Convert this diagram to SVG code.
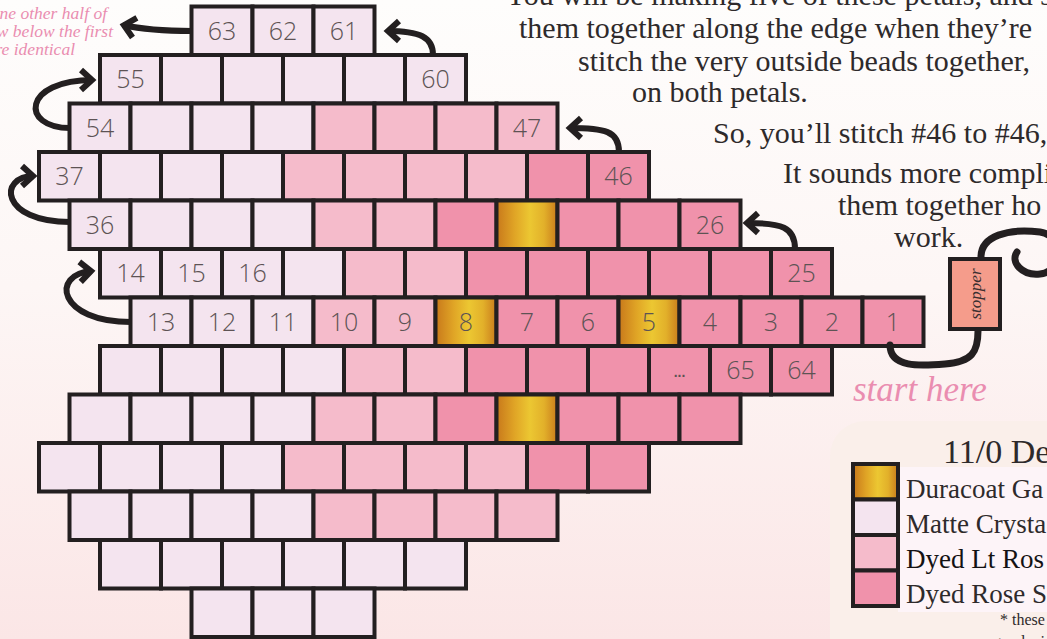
<svg xmlns="http://www.w3.org/2000/svg" width="1047" height="639" viewBox="0 0 1047 639">
<defs>
<linearGradient id="bg" x1="0" y1="0" x2="0" y2="1">
<stop offset="0" stop-color="#fefdfc"/><stop offset="0.45" stop-color="#fdf6f5"/><stop offset="1" stop-color="#fbe6e6"/>
</linearGradient>
<linearGradient id="gold" x1="0" y1="0" x2="1" y2="0">
<stop offset="0" stop-color="#c8781b"/><stop offset="0.3" stop-color="#e0a526"/><stop offset="0.55" stop-color="#ecc732"/><stop offset="0.78" stop-color="#e2b02a"/><stop offset="1" stop-color="#c97b1c"/>
</linearGradient>
<marker id="ah" markerUnits="userSpaceOnUse" viewBox="-20 -15 30 30" markerWidth="30" markerHeight="30" refX="1" refY="0" orient="auto">
<path d="M -11,-10 L 0,0 L -11,10" fill="none" stroke="#231f20" stroke-width="6" stroke-linejoin="miter"/>
</marker>
<style>
.P{fill:#f4e4ef}.L{fill:#f5bbcb}.R{fill:#f092ab}.G{fill:url(#gold)}
.bd rect{stroke:#231f20;stroke-width:4}
.sw{stroke:#231f20;stroke-width:4}
.n{font-family:"Open Sans","Liberation Sans",sans-serif;font-size:25px;font-weight:300;fill:#5d5354;text-anchor:middle}
.dots{font-family:"Liberation Sans",sans-serif;font-size:14px;font-weight:700;fill:#5d5354;text-anchor:middle}
.arrow{fill:none;stroke:#231f20;stroke-width:6;marker-end:url(#ah)}
.thread{fill:none;stroke:#231f20;stroke-width:7;stroke-linecap:round}
.tx{font-family:"Liberation Serif",serif;font-size:30px;fill:#2e2a2b}
.lg{font-family:"Liberation Serif",serif;font-size:27px;fill:#2e2a2b}
.ttl{font-family:"Liberation Serif",serif;font-size:34px;fill:#2e2a2b}
.sm{font-family:"Liberation Serif",serif;font-size:16px;fill:#2e2a2b}
.scr{font-family:"Liberation Serif",serif;font-style:italic;fill:#ea8db0}
.scs{font-size:17.5px}
</style>
</defs>
<rect x="0" y="0" width="1047" height="639" fill="url(#bg)"/>

<g id="notes">
<text class="scr scs" x="107" y="19" text-anchor="end">ne other half of</text>
<text class="scr scs" x="113" y="37" text-anchor="end">w below the first</text>
<text class="scr scs" x="75" y="55" text-anchor="end">re identical</text>
<text class="tx" x="505" y="5">You will be making five of these petals, and s</text>
<text class="tx" x="519" y="38">them together along the edge when they’re</text>
<text class="tx" x="578" y="71">stitch the very outside beads together,</text>
<text class="tx" x="632" y="102">on both petals.</text>
<text class="tx" x="713" y="143">So, you’ll stitch #46 to #46,</text>
<text class="tx" x="783" y="183">It sounds more compli</text>
<text class="tx" x="838" y="215">them together ho</text>
<text class="tx" x="894" y="247">work.</text>
<text class="scr" font-size="35" x="853" y="401">start here</text>
</g>

<g id="beads" class="bd">
<g id="b0_0"><rect class="P" x="191.5" y="6.5" width="61" height="48.5"/><text class="n" x="222" y="39.5">63</text></g>
<g id="b0_1"><rect class="P" x="252.5" y="6.5" width="61" height="48.5"/><text class="n" x="283" y="39.5">62</text></g>
<g id="b0_2"><rect class="P" x="313.5" y="6.5" width="61" height="48.5"/><text class="n" x="344" y="39.5">61</text></g>

<g id="b1_0"><rect class="P" x="100" y="55" width="61" height="48.5"/><text class="n" x="130.5" y="88">55</text></g>
<g id="b1_1"><rect class="P" x="161" y="55" width="61" height="48.5"/></g>
<g id="b1_2"><rect class="P" x="222" y="55" width="61" height="48.5"/></g>
<g id="b1_3"><rect class="P" x="283" y="55" width="61" height="48.5"/></g>
<g id="b1_4"><rect class="P" x="344" y="55" width="61" height="48.5"/></g>
<g id="b1_5"><rect class="P" x="405" y="55" width="61" height="48.5"/><text class="n" x="435.5" y="88">60</text></g>

<g id="b2_0"><rect class="P" x="69.5" y="103.5" width="61" height="48.5"/><text class="n" x="100" y="136.5">54</text></g>
<g id="b2_1"><rect class="P" x="130.5" y="103.5" width="61" height="48.5"/></g>
<g id="b2_2"><rect class="P" x="191.5" y="103.5" width="61" height="48.5"/></g>
<g id="b2_3"><rect class="P" x="252.5" y="103.5" width="61" height="48.5"/></g>
<g id="b2_4"><rect class="L" x="313.5" y="103.5" width="61" height="48.5"/></g>
<g id="b2_5"><rect class="L" x="374.5" y="103.5" width="61" height="48.5"/></g>
<g id="b2_6"><rect class="L" x="435.5" y="103.5" width="61" height="48.5"/></g>
<g id="b2_7"><rect class="L" x="496.5" y="103.5" width="61" height="48.5"/><text class="n" x="527" y="136.5">47</text></g>

<g id="b3_0"><rect class="P" x="39" y="152" width="61" height="48.5"/><text class="n" x="69.5" y="185">37</text></g>
<g id="b3_1"><rect class="P" x="100" y="152" width="61" height="48.5"/></g>
<g id="b3_2"><rect class="P" x="161" y="152" width="61" height="48.5"/></g>
<g id="b3_3"><rect class="P" x="222" y="152" width="61" height="48.5"/></g>
<g id="b3_4"><rect class="L" x="283" y="152" width="61" height="48.5"/></g>
<g id="b3_5"><rect class="L" x="344" y="152" width="61" height="48.5"/></g>
<g id="b3_6"><rect class="L" x="405" y="152" width="61" height="48.5"/></g>
<g id="b3_7"><rect class="L" x="466" y="152" width="61" height="48.5"/></g>
<g id="b3_8"><rect class="R" x="527" y="152" width="61" height="48.5"/></g>
<g id="b3_9"><rect class="R" x="588" y="152" width="61" height="48.5"/><text class="n" x="618.5" y="185">46</text></g>

<g id="b4_0"><rect class="P" x="69.5" y="200.5" width="61" height="48.5"/><text class="n" x="100" y="233.5">36</text></g>
<g id="b4_1"><rect class="P" x="130.5" y="200.5" width="61" height="48.5"/></g>
<g id="b4_2"><rect class="P" x="191.5" y="200.5" width="61" height="48.5"/></g>
<g id="b4_3"><rect class="P" x="252.5" y="200.5" width="61" height="48.5"/></g>
<g id="b4_4"><rect class="L" x="313.5" y="200.5" width="61" height="48.5"/></g>
<g id="b4_5"><rect class="L" x="374.5" y="200.5" width="61" height="48.5"/></g>
<g id="b4_6"><rect class="R" x="435.5" y="200.5" width="61" height="48.5"/></g>
<g id="b4_7"><rect class="G" x="496.5" y="200.5" width="61" height="48.5"/></g>
<g id="b4_8"><rect class="R" x="557.5" y="200.5" width="61" height="48.5"/></g>
<g id="b4_9"><rect class="R" x="618.5" y="200.5" width="61" height="48.5"/></g>
<g id="b4_10"><rect class="R" x="679.5" y="200.5" width="61" height="48.5"/><text class="n" x="710" y="233.5">26</text></g>

<g id="b5_0"><rect class="P" x="100" y="249" width="61" height="48.5"/><text class="n" x="130.5" y="282">14</text></g>
<g id="b5_1"><rect class="P" x="161" y="249" width="61" height="48.5"/><text class="n" x="191.5" y="282">15</text></g>
<g id="b5_2"><rect class="P" x="222" y="249" width="61" height="48.5"/><text class="n" x="252.5" y="282">16</text></g>
<g id="b5_3"><rect class="P" x="283" y="249" width="61" height="48.5"/></g>
<g id="b5_4"><rect class="L" x="344" y="249" width="61" height="48.5"/></g>
<g id="b5_5"><rect class="L" x="405" y="249" width="61" height="48.5"/></g>
<g id="b5_6"><rect class="R" x="466" y="249" width="61" height="48.5"/></g>
<g id="b5_7"><rect class="R" x="527" y="249" width="61" height="48.5"/></g>
<g id="b5_8"><rect class="R" x="588" y="249" width="61" height="48.5"/></g>
<g id="b5_9"><rect class="R" x="649" y="249" width="61" height="48.5"/></g>
<g id="b5_10"><rect class="R" x="710" y="249" width="61" height="48.5"/></g>
<g id="b5_11"><rect class="R" x="771" y="249" width="61" height="48.5"/><text class="n" x="801.5" y="282">25</text></g>

<g id="b6_0"><rect class="P" x="130.5" y="297.5" width="61" height="48.5"/><text class="n" x="161" y="330.5">13</text></g>
<g id="b6_1"><rect class="P" x="191.5" y="297.5" width="61" height="48.5"/><text class="n" x="222" y="330.5">12</text></g>
<g id="b6_2"><rect class="P" x="252.5" y="297.5" width="61" height="48.5"/><text class="n" x="283" y="330.5">11</text></g>
<g id="b6_3"><rect class="L" x="313.5" y="297.5" width="61" height="48.5"/><text class="n" x="344" y="330.5">10</text></g>
<g id="b6_4"><rect class="L" x="374.5" y="297.5" width="61" height="48.5"/><text class="n" x="405" y="330.5">9</text></g>
<g id="b6_5"><rect class="G" x="435.5" y="297.5" width="61" height="48.5"/><text class="n" x="466" y="330.5">8</text></g>
<g id="b6_6"><rect class="R" x="496.5" y="297.5" width="61" height="48.5"/><text class="n" x="527" y="330.5">7</text></g>
<g id="b6_7"><rect class="R" x="557.5" y="297.5" width="61" height="48.5"/><text class="n" x="588" y="330.5">6</text></g>
<g id="b6_8"><rect class="G" x="618.5" y="297.5" width="61" height="48.5"/><text class="n" x="649" y="330.5">5</text></g>
<g id="b6_9"><rect class="R" x="679.5" y="297.5" width="61" height="48.5"/><text class="n" x="710" y="330.5">4</text></g>
<g id="b6_10"><rect class="R" x="740.5" y="297.5" width="61" height="48.5"/><text class="n" x="771" y="330.5">3</text></g>
<g id="b6_11"><rect class="R" x="801.5" y="297.5" width="61" height="48.5"/><text class="n" x="832" y="330.5">2</text></g>
<g id="b6_12"><rect class="R" x="862.5" y="297.5" width="61" height="48.5"/><text class="n" x="893" y="330.5">1</text></g>

<g id="b7_0"><rect class="P" x="100" y="346" width="61" height="48.5"/></g>
<g id="b7_1"><rect class="P" x="161" y="346" width="61" height="48.5"/></g>
<g id="b7_2"><rect class="P" x="222" y="346" width="61" height="48.5"/></g>
<g id="b7_3"><rect class="P" x="283" y="346" width="61" height="48.5"/></g>
<g id="b7_4"><rect class="L" x="344" y="346" width="61" height="48.5"/></g>
<g id="b7_5"><rect class="L" x="405" y="346" width="61" height="48.5"/></g>
<g id="b7_6"><rect class="R" x="466" y="346" width="61" height="48.5"/></g>
<g id="b7_7"><rect class="R" x="527" y="346" width="61" height="48.5"/></g>
<g id="b7_8"><rect class="R" x="588" y="346" width="61" height="48.5"/></g>
<g id="b7_9"><rect class="R" x="649" y="346" width="61" height="48.5"/><text class="dots" x="679.5" y="377">...</text></g>
<g id="b7_10"><rect class="R" x="710" y="346" width="61" height="48.5"/><text class="n" x="740.5" y="379">65</text></g>
<g id="b7_11"><rect class="R" x="771" y="346" width="61" height="48.5"/><text class="n" x="801.5" y="379">64</text></g>

<g id="b8_0"><rect class="P" x="69.5" y="394.5" width="61" height="48.5"/></g>
<g id="b8_1"><rect class="P" x="130.5" y="394.5" width="61" height="48.5"/></g>
<g id="b8_2"><rect class="P" x="191.5" y="394.5" width="61" height="48.5"/></g>
<g id="b8_3"><rect class="P" x="252.5" y="394.5" width="61" height="48.5"/></g>
<g id="b8_4"><rect class="L" x="313.5" y="394.5" width="61" height="48.5"/></g>
<g id="b8_5"><rect class="L" x="374.5" y="394.5" width="61" height="48.5"/></g>
<g id="b8_6"><rect class="R" x="435.5" y="394.5" width="61" height="48.5"/></g>
<g id="b8_7"><rect class="G" x="496.5" y="394.5" width="61" height="48.5"/></g>
<g id="b8_8"><rect class="R" x="557.5" y="394.5" width="61" height="48.5"/></g>
<g id="b8_9"><rect class="R" x="618.5" y="394.5" width="61" height="48.5"/></g>
<g id="b8_10"><rect class="R" x="679.5" y="394.5" width="61" height="48.5"/></g>

<g id="b9_0"><rect class="P" x="39" y="443" width="61" height="48.5"/></g>
<g id="b9_1"><rect class="P" x="100" y="443" width="61" height="48.5"/></g>
<g id="b9_2"><rect class="P" x="161" y="443" width="61" height="48.5"/></g>
<g id="b9_3"><rect class="P" x="222" y="443" width="61" height="48.5"/></g>
<g id="b9_4"><rect class="L" x="283" y="443" width="61" height="48.5"/></g>
<g id="b9_5"><rect class="L" x="344" y="443" width="61" height="48.5"/></g>
<g id="b9_6"><rect class="L" x="405" y="443" width="61" height="48.5"/></g>
<g id="b9_7"><rect class="L" x="466" y="443" width="61" height="48.5"/></g>
<g id="b9_8"><rect class="R" x="527" y="443" width="61" height="48.5"/></g>
<g id="b9_9"><rect class="R" x="588" y="443" width="61" height="48.5"/></g>

<g id="b10_0"><rect class="P" x="69.5" y="491.5" width="61" height="48.5"/></g>
<g id="b10_1"><rect class="P" x="130.5" y="491.5" width="61" height="48.5"/></g>
<g id="b10_2"><rect class="P" x="191.5" y="491.5" width="61" height="48.5"/></g>
<g id="b10_3"><rect class="P" x="252.5" y="491.5" width="61" height="48.5"/></g>
<g id="b10_4"><rect class="L" x="313.5" y="491.5" width="61" height="48.5"/></g>
<g id="b10_5"><rect class="L" x="374.5" y="491.5" width="61" height="48.5"/></g>
<g id="b10_6"><rect class="L" x="435.5" y="491.5" width="61" height="48.5"/></g>
<g id="b10_7"><rect class="L" x="496.5" y="491.5" width="61" height="48.5"/></g>

<g id="b11_0"><rect class="P" x="100" y="540" width="61" height="48.5"/></g>
<g id="b11_1"><rect class="P" x="161" y="540" width="61" height="48.5"/></g>
<g id="b11_2"><rect class="P" x="222" y="540" width="61" height="48.5"/></g>
<g id="b11_3"><rect class="P" x="283" y="540" width="61" height="48.5"/></g>
<g id="b11_4"><rect class="P" x="344" y="540" width="61" height="48.5"/></g>
<g id="b11_5"><rect class="P" x="405" y="540" width="61" height="48.5"/></g>

<g id="b12_0"><rect class="P" x="191.5" y="588.5" width="61" height="48.5"/></g>
<g id="b12_1"><rect class="P" x="252.5" y="588.5" width="61" height="48.5"/></g>
<g id="b12_2"><rect class="P" x="313.5" y="588.5" width="61" height="48.5"/></g>
</g>

<g id="stopper">
<rect x="950" y="259" width="50" height="70" fill="#f59c8b" stroke="#231f20" stroke-width="4"/>
<text x="975" y="294" transform="rotate(-90 975 294)" font-family="Liberation Serif, serif" font-style="italic" font-size="17" fill="#3a2f30" text-anchor="middle" dominant-baseline="central">stopper</text>
</g>

<g id="connectors">
<path class="arrow" d="M 192,31 C 165,31 145,30 123,25"/>
<path class="arrow" d="M 433,55 C 433,37 420,31 387,31"/>
<path class="arrow" d="M 70,128 C 20,128 22,80 93,80"/>
<path class="arrow" d="M 70,222 C 0,222 -2,176 34,176"/>
<path class="arrow" d="M 131,322 C 58,322 50,274 92,271"/>
<path class="arrow" d="M 619,152 C 619,131 605,128 569,128"/>
<path class="arrow" d="M 795,249 C 795,227 782,223 746,223"/>
<path class="thread" d="M 890,345 C 890,368 920,366 945,364 C 972,362 978,352 978,331"/>
<path class="thread" d="M 981,257 C 981,236 1008,228 1040,232 C 1065,236 1062,272 1040,274 C 1022,276 1010,262 1017,252"/>
</g>

<g id="legend">
<rect x="830" y="421" width="260" height="260" rx="35" fill="#faefea"/>
<rect x="898" y="467" width="150" height="145" fill="#fdf4f8"/>
<text class="ttl" x="943" y="463">11/0 De</text>
<g id="sw-gold"><rect class="sw" x="853" y="464" width="45" height="35.5" fill="url(#gold)"/><text class="lg" x="906" y="498">Duracoat Ga</text></g>
<g id="sw-matte"><rect class="sw P" x="853" y="499.5" width="45" height="35.5"/><text class="lg" x="906" y="533">Matte Crysta</text></g>
<g id="sw-lt"><rect class="sw L" x="853" y="535" width="45" height="35.5"/><text class="lg" x="906" y="568" style="fill:#141213">Dyed Lt Ros</text></g>
<g id="sw-rose"><rect class="sw R" x="853" y="570.5" width="45" height="35.5"/><text class="lg" x="906" y="603">Dyed Rose S</text></g>
<text class="sm" x="1000" y="625">* these</text>
<text class="sm" x="993" y="647">good wi</text>
</g>
</svg>
